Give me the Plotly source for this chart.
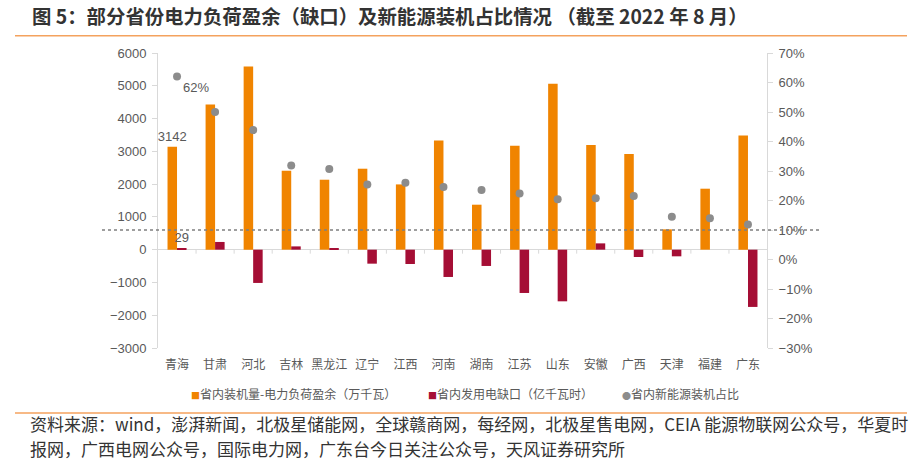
import plotly.graph_objects as go

provinces = ["青海", "甘肃", "河北", "吉林", "黑龙江", "辽宁", "江西", "河南", "湖南",
             "江苏", "山东", "安徽", "广西", "天津", "福建", "广东"]
surplus = [3142, 4430, 5590, 2408, 2134, 2470, 1991, 3333, 1372,
           3171, 5061, 3191, 2917, 620, 1860, 3486]
gap = [29, 235, -1015, 100, 50, -427, -437, -833, -497,
       -1321, -1576, 192, -223, -203, 0, -1747]
renew_share = [0.62, 0.50, 0.439, 0.319, 0.307, 0.254, 0.260, 0.246, 0.236,
               0.224, 0.204, 0.208, 0.215, 0.145, 0.140, 0.119]
ref_line = 0.10

surplus_labels = ["3142"] + [""] * 15
gap_labels = ["29"] + [""] * 15
share_labels = ["62%"] + [""] * 15

ORANGE = "#F08400"
RED = "#A50E35"
GRAY = "#8C8C8C"
AXIS = "#D9D9D9"
TICK = "#595959"
LINE_OR = "#F4A25E"
FONT = "Liberation Sans, Noto Sans CJK SC, sans-serif"
CJK = "Noto Sans CJK SC, sans-serif"

W, H = 918, 470
L, R, T, B = 158, 767, 53, 348


def px(x):
    return (x - L) / (R - L)


def py(y):
    return (B - y) / (B - T)


fig = go.Figure()
fig.add_trace(go.Bar(x=provinces, y=surplus, name="省内装机量-电力负荷盈余（万千瓦）",
                     marker=dict(color=ORANGE, line=dict(width=0)),
                     text=surplus_labels, textposition="outside", constraintext="none",
                     textfont=dict(size=13, color=TICK, family=FONT), cliponaxis=False,
                     showlegend=False))
fig.add_trace(go.Bar(x=provinces, y=gap, name="省内发用电缺口（亿千瓦时）",
                     marker=dict(color=RED, line=dict(width=0)),
                     text=gap_labels, textposition="outside", constraintext="none",
                     textfont=dict(size=13, color=TICK, family=FONT), cliponaxis=False,
                     showlegend=False))
fig.add_trace(go.Scatter(x=provinces, y=renew_share, yaxis="y2", mode="markers+text",
                         name="省内新能源装机占比",
                         marker=dict(color=GRAY, size=8),
                         text=share_labels, textposition="bottom right",
                         textfont=dict(size=13, color=TICK, family=FONT),
                         cliponaxis=False, showlegend=False))

shapes = []
shapes.append(dict(type="line", xref="paper", yref="y2", x0=px(102), x1=px(820),
                   y0=ref_line, y1=ref_line, line=dict(color="#7F7F7F", width=1.5, dash="dot"),
                   layer="above"))
for i in range(1, len(provinces)):
    shapes.append(dict(type="line", xref="x", yref="y", ysizemode="pixel", yanchor=0,
                       x0=i - 0.5, x1=i - 0.5, y0=0, y1=-4,
                       line=dict(color=AXIS, width=1)))
shapes.append(dict(type="line", xref="paper", yref="paper", x0=px(15), x1=px(907),
                   y0=py(35.7), y1=py(35.7), line=dict(color=LINE_OR, width=1.5)))
shapes.append(dict(type="line", xref="paper", yref="paper", x0=px(15), x1=px(907),
                   y0=py(413), y1=py(413), line=dict(color=LINE_OR, width=1.5)))

annotations = [
    dict(text="<b>图 5：部分省份电力负荷盈余（缺口）及新能源装机占比情况 （截至 2022 年 8 月）</b>",
         xref="paper", yref="paper", x=px(30), y=py(16), xanchor="left", yanchor="middle",
         showarrow=False, font=dict(size=19.4, color="#333333", family=CJK)),
    dict(text="资料来源：wind，澎湃新闻，北极星储能网，全球赣商网，每经网，北极星售电网，CEIA 能源物联网公众号，华夏时",
         xref="paper", yref="paper", x=px(28), y=py(423), xanchor="left", yanchor="middle",
         showarrow=False, font=dict(size=17, color="#333333", family=CJK)),
    dict(text="报网，广西电网公众号，国际电力网，广东台今日关注公众号，天风证券研究所",
         xref="paper", yref="paper", x=px(28), y=py(448), xanchor="left", yanchor="middle",
         showarrow=False, font=dict(size=17, color="#333333", family=CJK)),
]

legend_items = [
    (189, ORANGE, "■", "省内装机量-电力负荷盈余（万千瓦）"),
    (426, RED, "■", "省内发用电缺口（亿千瓦时）"),
    (620, GRAY, "●", "省内新能源装机占比"),
]
for x0, col, sym, label in legend_items:
    annotations.append(dict(
        text=f'<span style="color:{col};font-size:9px">{sym}</span>{label}',
        xref="paper", yref="paper", x=px(x0), y=py(393), xanchor="left", yanchor="middle",
        showarrow=False, font=dict(size=12, color=TICK, family=CJK)))

fig.update_layout(
    width=W, height=H,
    margin=dict(l=L, r=W - R, t=T, b=H - B),
    paper_bgcolor="white", plot_bgcolor="white",
    barmode="group", bargap=0.5, bargroupgap=0,
    showlegend=False,
    font=dict(family=FONT, color=TICK),
    xaxis=dict(type="category", range=[-0.5, len(provinces) - 0.5],
               showgrid=False, showline=False, zeroline=False,
               ticks="", tickfont=dict(size=12, color=TICK, family=CJK),
               ticklabelstandoff=8),
    yaxis=dict(range=[-3000, 6000], dtick=1000, showgrid=False, zeroline=True,
               zerolinecolor=AXIS, zerolinewidth=1, showline=True, linecolor=AXIS,
               linewidth=1, ticks="outside", ticklen=5, tickcolor=AXIS,
               tickfont=dict(size=13, color=TICK, family=FONT), ticklabelstandoff=3),
    yaxis2=dict(range=[-0.30, 0.70], dtick=0.1, tickformat=".0%", overlaying="y",
                side="right", showgrid=False, zeroline=False, showline=True,
                linecolor=AXIS, linewidth=1, ticks="outside", ticklen=5, tickcolor=AXIS,
                tickfont=dict(size=13, color=TICK, family=FONT), ticklabelstandoff=3),
    shapes=shapes,
    annotations=annotations,
)

fig.write_html("out.html", config={"displayModeBar": False},
               post_script="document.body.style.margin='0';")
